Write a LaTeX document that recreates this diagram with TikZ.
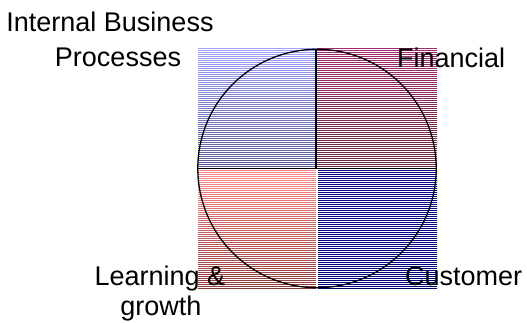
\documentclass[tikz,border=0pt]{standalone}
\usepackage{fontspec}
\setmainfont{Liberation Sans}
\definecolor{ulTop}{HTML}{A0A0FF}
\definecolor{ulBot}{HTML}{585890}
\definecolor{urTop}{HTML}{A02C70}
\definecolor{urBot}{HTML}{642838}
\definecolor{llTop}{HTML}{FF8C8C}
\definecolor{llBot}{HTML}{8C3838}
\definecolor{lrTop}{HTML}{0C0C8C}
\definecolor{lrBot}{HTML}{000078}
\begin{document}
\begin{tikzpicture}[x=1pt,y=-1pt,
  lbl/.style={font=\fontsize{27}{32}\selectfont, inner sep=0pt},
  stripe/.style={white,line width=1pt},
  edge/.style={black,line width=1.5pt}]
\useasboundingbox (0,0) rectangle (527,323);
% quadrants
\shade[top color=ulTop,bottom color=ulBot] (198,49) rectangle (316,168);
\shade[top color=urTop,bottom color=urBot] (317,49) rectangle (437,168);
\shade[top color=llTop,bottom color=llBot] (198,170) rectangle (316,288);
\shade[top color=lrTop,bottom color=lrBot] (318,170) rectangle (437,288);
% stripes
\foreach \y in {49,51,...,287} \draw[stripe] (197,\y+0.5) -- (438,\y+0.5);
% separators
\draw[white,line width=2pt] (198,169) -- (437,169);
\draw[white,line width=1.5pt] (317,170) -- (317,288);
\draw[edge] (316.2,49) -- (316.2,168.5);
\draw[edge] (198,168.3) -- (437,168.3);
% circle
\draw[black,line width=1.3pt] (317,168.5) circle [radius=119.2];
% labels
\node[lbl,anchor=base] (ib) at (110,32) {Internal Business};
\node[lbl,anchor=base] (pr) at (118,67) {Processes};
\node[lbl,anchor=base west] (fi) at (397,68) {Financial};
\node[lbl,anchor=base] (le) at (160,285) {Learning \&};
\node[lbl,anchor=base] (gr) at (161,315) {growth};
\node[lbl,anchor=base west] (cu) at (405,285) {Customer};
\end{tikzpicture}
\end{document}
